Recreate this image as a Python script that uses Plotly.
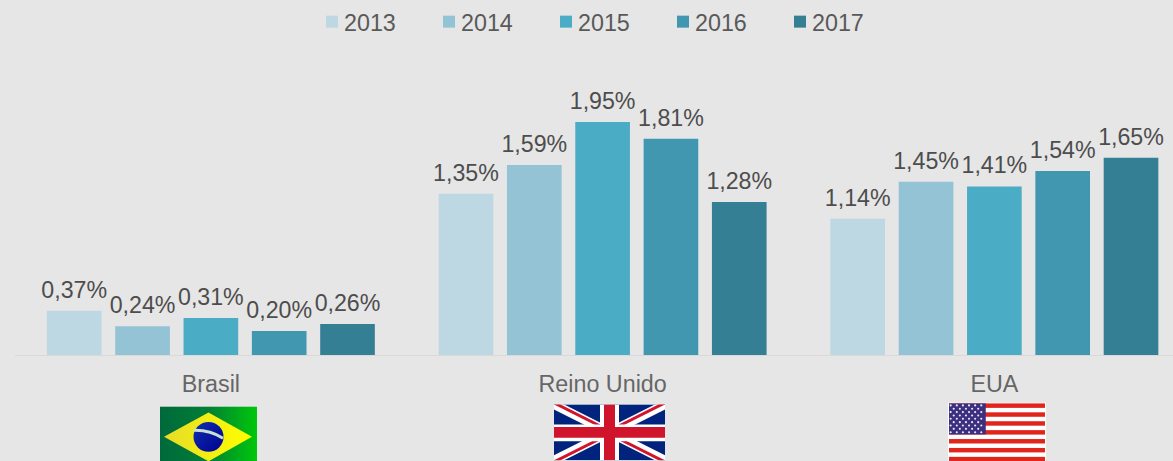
import base64
import plotly.graph_objects as go

categories = ["Brasil", "Reino Unido", "EUA"]
series_names = ["2013", "2014", "2015", "2016", "2017"]
values_2013 = [0.0037, 0.0135, 0.0114]
values_2014 = [0.0024, 0.0159, 0.0145]
values_2015 = [0.0031, 0.0195, 0.0141]
values_2016 = [0.0020, 0.0181, 0.0154]
values_2017 = [0.0026, 0.0128, 0.0165]
colors = ["#BDD7E3", "#93C3D5", "#4BACC6", "#4097AF", "#357F95"]

W, H = 1173, 461
ML, MR, MT, MB = 15, 0, 50, 105.5
PW, PH = W - ML - MR, H - MT - MB


def uri(svg):
    return "data:image/svg+xml;base64," + base64.b64encode(svg.encode()).decode()


brazil = """<svg xmlns="http://www.w3.org/2000/svg" viewBox="0 0 97 62" preserveAspectRatio="none">
<defs><linearGradient id="g" x1="0" x2="1" y1="0" y2="0"><stop offset="0" stop-color="#00693C"/><stop offset="0.5" stop-color="#007F35"/><stop offset="1" stop-color="#00C80A"/></linearGradient>
<linearGradient id="d" x1="0" x2="1" y1="0" y2="0"><stop offset="0" stop-color="#E6DC28"/><stop offset="1" stop-color="#FFFF00"/></linearGradient>
<linearGradient id="b" x1="0" x2="1" y1="0" y2="1"><stop offset="0" stop-color="#1030B0"/><stop offset="1" stop-color="#000090"/></linearGradient></defs>
<rect width="97" height="62" fill="url(#g)"/>
<polygon points="4,30.5 48.5,6 92,30.5 48.5,55" fill="url(#d)"/>
<circle cx="48.5" cy="30.5" r="15" fill="url(#b)"/>
<path d="M33.7,24 Q50,23.5 63,32" stroke="#C8E0D0" stroke-width="3" fill="none"/>
</svg>"""

uk = """<svg xmlns="http://www.w3.org/2000/svg" viewBox="0 0 111 56" preserveAspectRatio="none">
<rect width="111" height="56" fill="#00247D"/>
<path d="M0,0L111,56M111,0L0,56" stroke="#fff" stroke-width="9"/>
<path d="M0,0L55.5,28" stroke="#CF142B" stroke-width="3" transform="translate(0,-1.6)"/>
<path d="M111,56L55.5,28" stroke="#CF142B" stroke-width="3" transform="translate(0,1.6)"/>
<path d="M111,0L55.5,28" stroke="#CF142B" stroke-width="3" transform="translate(0,-1.6)"/>
<path d="M0,56L55.5,28" stroke="#CF142B" stroke-width="3" transform="translate(0,1.6)"/>
<path d="M46,0H65V56H46ZM0,20H111V37H0Z" fill="#fff"/>
<path d="M50,0H61V56H50ZM0,22.5H111V33.5H0Z" fill="#CF142B"/>
</svg>"""

stripes = "".join(
    f'<rect x="1" y="{i * 4.46 + 1:.2f}" width="94" height="4.46" fill="#E0251C"/>'
    for i in range(0, 13, 2)
)
stars = "".join(
    f'<circle cx="{2.6 + c * 6.0 + (3.0 if r % 2 else 0):.2f}" cy="{3 + r * 3.35:.2f}" r="1.05" fill="#E8E8F0"/>'
    for r in range(9)
    for c in range(6 - (r % 2))
)
usa = f"""<svg xmlns="http://www.w3.org/2000/svg" viewBox="0 0 96 60" preserveAspectRatio="none">
<rect width="96" height="60" fill="#fff"/>{stripes}
<rect x="1" y="1" width="36" height="31" fill="#3C2F80"/>{stars}
</svg>"""


def flag(src, x0, x1, y0, y1):
    return dict(
        source=uri(src), xref="paper", yref="paper",
        x=(x0 - ML) / PW, y=(H - MB - y0) / PH,
        sizex=(x1 - x0) / PW, sizey=(y1 - y0) / PH,
        xanchor="left", yanchor="top", sizing="stretch", layer="above",
    )


fig = go.Figure()
all_values = [values_2013, values_2014, values_2015, values_2016, values_2017]
for name, vals, col in zip(series_names, all_values, colors):
    fig.add_trace(go.Bar(
        name=name, x=categories, y=vals,
        marker=dict(color=col, line_width=0),
        texttemplate="%{y:.2%}", textposition="outside", cliponaxis=False,
        constraintext="none", textfont=dict(size=23.2, color="#4D4D4D"),
        hoverinfo="skip",
    ))

fig.update_layout(
    width=W, height=H, autosize=False, separators=", ",
    margin=dict(l=ML, r=MR, t=MT, b=MB, pad=0),
    paper_bgcolor="#E6E6E6", plot_bgcolor="#E6E6E6",
    font=dict(family="Liberation Sans, Arial, sans-serif", size=23.3, color="#595959"),
    barmode="group", bargap=0.128, bargroupgap=0.2,
    showlegend=True,
    legend=dict(
        orientation="h", x=0.5 + 10 / W, xanchor="center", xref="container",
        y=1, yanchor="top", yref="container",
        entrywidth=72, entrywidthmode="pixels", itemclick=False, itemdoubleclick=False,
        traceorder="normal", font=dict(size=23.3, color="#595959"),
        bgcolor="rgba(0,0,0,0)", tracegroupgap=0,
    ),
    xaxis=dict(
        type="category", range=[-0.5, 2.456], showgrid=False, ticks="",
        showline=True, linecolor="#D9D9D9", linewidth=1, zeroline=False,
        ticklabelstandoff=8, tickfont=dict(size=23.3, color="#666666"),
    ),
    yaxis=dict(range=[0, 0.02552], visible=False, showgrid=False, zeroline=False, tickformat=".2%"),
    images=[
        flag(brazil, 160, 257, 407, 469),
        flag(uk, 554, 665, 405, 461),
        flag(usa, 948, 1046, 403, 463),
    ],
)
post = """
document.documentElement.style.margin='0';
document.body.style.margin='0';
document.body.style.background='#E6E6E6';
document.querySelectorAll('.legend .legendpoints').forEach(function(g){g.setAttribute('transform','translate(8,0)');});
document.querySelectorAll('.bars .bartext').forEach(function(t){t.setAttribute('transform','translate(0,-5) '+(t.getAttribute('transform')||''));});
"""
fig.write_html("out.html", post_script=post, config={"displayModeBar": False})
